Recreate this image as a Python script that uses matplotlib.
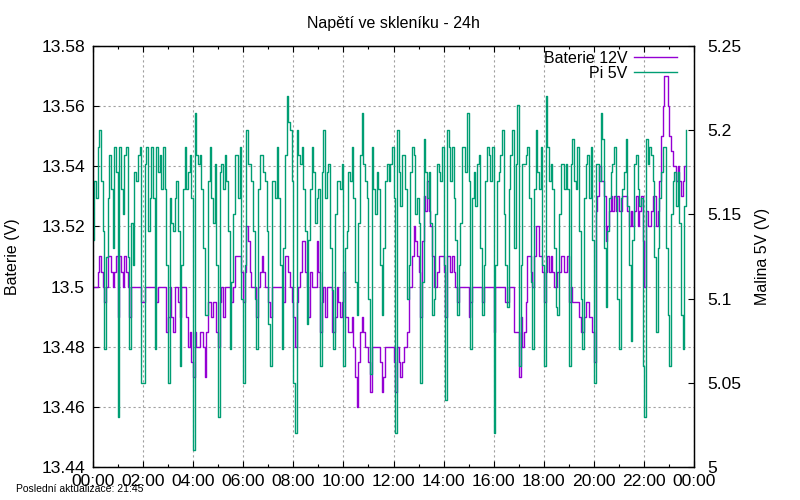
import numpy as np
import matplotlib
matplotlib.use("Agg")
import matplotlib.pyplot as plt
from matplotlib.ticker import FuncFormatter, MultipleLocator

plt.rcParams['font.family'] = ['Liberation Sans', 'DejaVu Sans']

# vzorek kazde 4 minuty, po blocich 2h
interval_min = 4

baterie = [
    # 00-02
    13.50, 13.50, 13.50, 13.505, 13.51, 13.505, 13.50, 13.495, 13.50, 13.51, 13.51, 13.505, 13.50, 13.505, 13.51,
    13.49, 13.51, 13.505, 13.50, 13.51, 13.505, 13.50, 13.49, 13.50, 13.50, 13.50, 13.50, 13.50, 13.50, 13.495,
    # 02-04
    13.495, 13.50, 13.50, 13.50, 13.50, 13.50, 13.50, 13.50, 13.495, 13.50, 13.50, 13.50, 13.50, 13.50, 13.485,
    13.49, 13.50, 13.49, 13.485, 13.50, 13.50, 13.495, 13.49, 13.50, 13.50, 13.50, 13.49, 13.48, 13.485, 13.475,
    # 04-06
    13.47, 13.485, 13.48, 13.48, 13.485, 13.485, 13.48, 13.47, 13.485, 13.495, 13.495, 13.49, 13.495, 13.495, 13.485,
    13.48, 13.495, 13.50, 13.49, 13.50, 13.50, 13.50, 13.50, 13.495, 13.50, 13.51, 13.51, 13.51, 13.51, 13.505,
    # 06-08
    13.495, 13.505, 13.52, 13.515, 13.505, 13.50, 13.50, 13.50, 13.49, 13.50, 13.505, 13.51, 13.505, 13.50, 13.50,
    13.495, 13.49, 13.50, 13.50, 13.50, 13.50, 13.50, 13.50, 13.50, 13.495, 13.51, 13.51, 13.505, 13.50, 13.495,
    # 08-10
    13.49, 13.48, 13.495, 13.50, 13.505, 13.515, 13.515, 13.505, 13.50, 13.49, 13.505, 13.50, 13.50, 13.50, 13.515,
    13.505, 13.485, 13.495, 13.50, 13.49, 13.50, 13.50, 13.50, 13.485, 13.485, 13.49, 13.50, 13.495, 13.49, 13.495,
    # 10-12
    13.505, 13.49, 13.49, 13.485, 13.485, 13.49, 13.48, 13.47, 13.46, 13.475, 13.485, 13.49, 13.485, 13.48, 13.48,
    13.475, 13.465, 13.48, 13.48, 13.48, 13.48, 13.48, 13.475, 13.465, 13.47, 13.48, 13.48, 13.48, 13.48, 13.48,
    # 12-14
    13.475, 13.465, 13.48, 13.475, 13.47, 13.475, 13.48, 13.48, 13.485, 13.50, 13.50, 13.51, 13.52, 13.515, 13.51,
    13.505, 13.49, 13.515, 13.53, 13.525, 13.535, 13.525, 13.52, 13.51, 13.50, 13.50, 13.505, 13.51, 13.51, 13.51,
    # 14-16
    13.505, 13.49, 13.51, 13.51, 13.505, 13.51, 13.505, 13.50, 13.495, 13.50, 13.50, 13.50, 13.50, 13.50, 13.50,
    13.49, 13.495, 13.50, 13.50, 13.50, 13.50, 13.50, 13.50, 13.495, 13.50, 13.50, 13.50, 13.50, 13.50, 13.50,
    # 16-18
    13.485, 13.50, 13.50, 13.50, 13.50, 13.50, 13.50, 13.495, 13.495, 13.50, 13.50, 13.50, 13.485, 13.485, 13.485,
    13.47, 13.49, 13.48, 13.485, 13.495, 13.51, 13.51, 13.505, 13.50, 13.51, 13.52, 13.52, 13.51, 13.51, 13.505,
    # 18-20
    13.495, 13.505, 13.51, 13.505, 13.51, 13.505, 13.50, 13.50, 13.505, 13.505, 13.51, 13.51, 13.505, 13.505, 13.51,
    13.495, 13.50, 13.495, 13.495, 13.495, 13.495, 13.49, 13.485, 13.485, 13.49, 13.495, 13.495, 13.49, 13.49, 13.485,
    # 20-22
    13.475, 13.525, 13.53, 13.54, 13.535, 13.535, 13.53, 13.515, 13.52, 13.525, 13.53, 13.525, 13.53, 13.525, 13.53,
    13.525, 13.525, 13.53, 13.53, 13.53, 13.525, 13.52, 13.525, 13.52, 13.525, 13.53, 13.52, 13.525, 13.53, 13.515,
    # 22-24
    13.50, 13.525, 13.52, 13.52, 13.525, 13.53, 13.53, 13.52, 13.525, 13.535, 13.55, 13.56, 13.57, 13.57, 13.56,
    13.55, 13.545, 13.54, 13.54, 13.535, 13.54, 13.535, 13.53, 13.535, 13.54, 13.54,
]

pi5v = [
    # 00-02
    5.135, 5.17, 5.16, 5.19, 5.20, 5.17, 5.14, 5.07, 5.125, 5.16, 5.185, 5.165, 5.13, 5.19, 5.175,
    5.03, 5.19, 5.165, 5.15, 5.185, 5.19, 5.125, 5.07, 5.145, 5.12, 5.175, 5.17, 5.185, 5.19, 5.05,
    # 02-04
    5.05, 5.18, 5.19, 5.14, 5.16, 5.19, 5.16, 5.07, 5.19, 5.175, 5.185, 5.165, 5.19, 5.165, 5.12,
    5.05, 5.16, 5.145, 5.14, 5.16, 5.17, 5.14, 5.06, 5.12, 5.165, 5.19, 5.165, 5.175, 5.185, 5.16,
    # 04-06
    5.01, 5.21, 5.185, 5.18, 5.185, 5.165, 5.13, 5.09, 5.09, 5.17, 5.19, 5.16, 5.145, 5.18, 5.12,
    5.03, 5.175, 5.18, 5.165, 5.185, 5.17, 5.14, 5.07, 5.11, 5.15, 5.185, 5.185, 5.16, 5.19, 5.10,
    # 06-08
    5.05, 5.12, 5.20, 5.18, 5.18, 5.17, 5.14, 5.10, 5.07, 5.165, 5.185, 5.185, 5.175, 5.17, 5.14,
    5.085, 5.06, 5.17, 5.17, 5.16, 5.19, 5.16, 5.12, 5.07, 5.13, 5.185, 5.22, 5.205, 5.20, 5.17,
    # 08-10
    5.05, 5.02, 5.20, 5.185, 5.18, 5.19, 5.165, 5.14, 5.085, 5.135, 5.165, 5.19, 5.175, 5.145, 5.16,
    5.165, 5.06, 5.175, 5.20, 5.16, 5.175, 5.18, 5.13, 5.105, 5.07, 5.15, 5.17, 5.17, 5.165, 5.18,
    # 10-12
    5.06, 5.13, 5.14, 5.175, 5.17, 5.19, 5.16, 5.11, 5.09, 5.145, 5.185, 5.21, 5.18, 5.17, 5.16,
    5.10, 5.055, 5.19, 5.165, 5.15, 5.175, 5.165, 5.12, 5.09, 5.13, 5.17, 5.18, 5.17, 5.18, 5.19,
    # 12-14
    5.16, 5.02, 5.20, 5.175, 5.155, 5.185, 5.185, 5.165, 5.10, 5.12, 5.175, 5.19, 5.185, 5.15, 5.16,
    5.145, 5.05, 5.11, 5.195, 5.175, 5.16, 5.175, 5.145, 5.09, 5.10, 5.15, 5.18, 5.175, 5.17, 5.19,
    # 14-16
    5.12, 5.04, 5.20, 5.19, 5.17, 5.19, 5.16, 5.135, 5.09, 5.12, 5.145, 5.19, 5.19, 5.175, 5.21,
    5.17, 5.07, 5.16, 5.175, 5.155, 5.18, 5.185, 5.13, 5.09, 5.12, 5.17, 5.19, 5.185, 5.17, 5.19,
    # 16-18
    5.02, 5.12, 5.17, 5.175, 5.185, 5.20, 5.15, 5.12, 5.095, 5.165, 5.185, 5.20, 5.13, 5.18, 5.215,
    5.06, 5.12, 5.18, 5.18, 5.185, 5.19, 5.16, 5.11, 5.07, 5.165, 5.20, 5.175, 5.165, 5.19, 5.12,
    # 18-20
    5.06, 5.22, 5.19, 5.17, 5.18, 5.165, 5.13, 5.095, 5.09, 5.15, 5.18, 5.18, 5.165, 5.18, 5.165,
    5.06, 5.18, 5.195, 5.17, 5.165, 5.19, 5.14, 5.10, 5.07, 5.16, 5.18, 5.185, 5.16, 5.19, 5.135,
    # 20-22
    5.05, 5.18, 5.18, 5.17, 5.21, 5.195, 5.13, 5.095, 5.14, 5.16, 5.175, 5.18, 5.19, 5.16, 5.10,
    5.07, 5.16, 5.165, 5.175, 5.195, 5.155, 5.12, 5.075, 5.135, 5.18, 5.185, 5.165, 5.155, 5.16, 5.06,
    # 22-24
    5.03, 5.195, 5.18, 5.19, 5.185, 5.17, 5.125, 5.08, 5.13, 5.16, 5.175, 5.19, 5.19, 5.13, 5.09,
    5.06, 5.15, 5.17, 5.175, 5.155, 5.175, 5.145, 5.09, 5.07, 5.155, 5.20,
]

hodiny = np.arange(len(baterie)) * interval_min / 60.0

xtick_pos = list(range(0, 25, 2))
xtick_labels = ["%02d:00" % (h % 24) for h in xtick_pos]
left_ticks = [13.44, 13.46, 13.48, 13.50, 13.52, 13.54, 13.56, 13.58]
right_ticks = [5.0, 5.05, 5.1, 5.15, 5.2, 5.25]

fig = plt.figure(figsize=(8, 5), dpi=100)
ax = fig.add_axes([0.1159, 0.0656, 0.752, 0.8428])
ax2 = ax.twinx()

l1, = ax.plot(hodiny, baterie, drawstyle="steps-post", color="#9400d3", lw=1.0, label="Baterie 12V")
l2, = ax2.plot(hodiny, pi5v, drawstyle="steps-post", color="#009e73", lw=1.0, label="Pi 5V")

ax.set_xlim(0, 24)
ax.set_ylim(13.44, 13.58)
ax2.set_ylim(5.0, 5.25)

ax.set_xticks(xtick_pos)
ax.set_xticklabels(xtick_labels)
ax.xaxis.set_minor_locator(MultipleLocator(1))
ax.set_yticks(left_ticks)
ax.yaxis.set_major_formatter(FuncFormatter(lambda v, p: "%g" % round(v, 2)))
ax2.set_yticks(right_ticks)
ax2.yaxis.set_major_formatter(FuncFormatter(lambda v, p: "%g" % round(v, 2)))

ax.tick_params(axis="x", which="both", direction="in", top=True, labelsize=12.6, pad=5)
ax.tick_params(axis="x", which="major", length=4.5, width=0.8)
ax.tick_params(axis="x", which="minor", length=2.3, width=0.8)
ax.tick_params(axis="y", direction="in", right=False, length=4.5, width=0.8, labelsize=12.6, pad=5.5)
ax2.tick_params(axis="y", direction="in", length=4.5, width=0.8, labelsize=12.6, pad=9)

for a in (ax, ax2):
    for s in a.spines.values():
        s.set_linewidth(0.9)
        s.set_color("black")

ax.grid(True, which="major", color="#a0a0a0", linestyle=(0, (2, 2.5)), linewidth=0.8)

ax.set_title("Napětí ve skleníku - 24h", fontsize=11.5, pad=13)
ax.set_ylabel("Baterie (V)", fontsize=11.5)
ax.yaxis.label.set_va("center")
ax.yaxis.set_label_coords(-0.134, 0.5)
ax2.set_ylabel("Malina 5V (V)", fontsize=11.5, rotation=90)
ax2.yaxis.label.set_va("center")
ax2.yaxis.set_label_coords(1.114, 0.5)

ax2.legend(handles=[l1, l2], loc="upper right", bbox_to_anchor=(0.972, 0.988), frameon=False,
           markerfirst=False, fontsize=11.5, handlelength=2.7, handletextpad=0.45,
           labelspacing=0.0, borderaxespad=0, borderpad=0)

fig.text(16 / 800, 1 - 489 / 500, "Poslední aktualizace: 21:45", fontsize=7.5, ha="left", va="center")

fig.savefig("out.png", dpi=100)
